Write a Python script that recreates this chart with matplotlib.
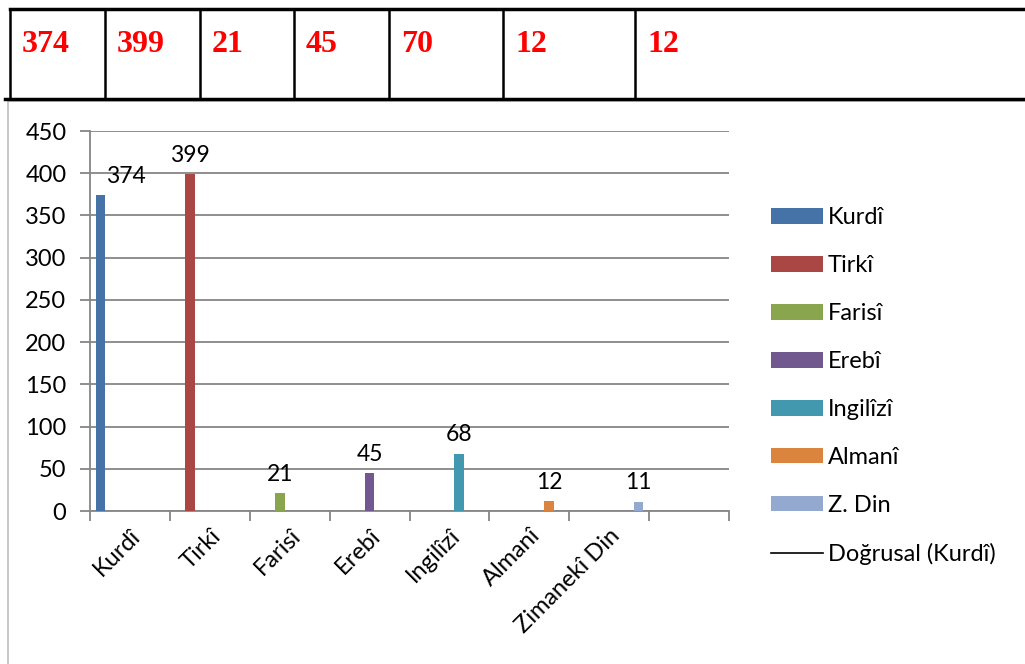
import matplotlib.pyplot as plt
from matplotlib.patches import Patch, Rectangle
from matplotlib.lines import Line2D

# table row above the chart
table_values = ['374', '399', '21', '45', '70', '12', '12']
table_edges = [10, 105, 200, 294, 389, 503, 635]  # column borders (px)

# chart data
categories = ['Kurdî', 'Tirkî', 'Farisî', 'Erebî', 'Ingilîzî', 'Almanî', 'Zimanekî Din']
series_names = ['Kurdî', 'Tirkî', 'Farisî', 'Erebî', 'Ingilîzî', 'Almanî', 'Z. Din']
values = [374, 399, 21, 45, 68, 12, 11]
colors = ['#4572A7', '#AA4643', '#89A54E', '#71588F', '#4198AF', '#DB843D', '#93A9CF']

W, H = 1025, 664
plt.rcParams['font.family'] = ['Lato', 'DejaVu Sans']
fig = plt.figure(figsize=(W / 100, H / 100), dpi=100)

def fx(px):
    return px / W

def fy(py):
    return 1 - py / H

# table lines
fig.add_artist(Line2D([fx(10), 1], [fy(9), fy(9)], color='black', lw=2.5))
fig.add_artist(Line2D([fx(5), 1], [fy(99), fy(99)], color='black', lw=2.5))
for x in table_edges:
    fig.add_artist(Line2D([fx(x), fx(x)], [fy(9), fy(99)], color='black', lw=1.8))
for x, v in zip(table_edges, table_values):
    fig.text(fx(x + 12), fy(44), v, color='red', fontsize=23, fontweight='bold',
             family='Liberation Serif', va='center', ha='left')

# chart area border
fig.add_artist(Rectangle((fx(8), -0.01), 1.0, fy(101) + 0.01, transform=fig.transFigure,
                         fill=False, edgecolor='#BFBFBF', lw=1.2))

ax = fig.add_axes([fx(90), fy(511), fx(729 - 90), fy(131) - fy(511)])

w = 0.1225
handles = []
for i, (name, v, c) in enumerate(zip(series_names, values, colors)):
    xpos = i + 0.5 + (i - 3) * w
    ax.bar(xpos, v, width=w, color=c, zorder=3)
    # the first label was dragged off the axis line in the original
    dx = 18 if i == 0 else 0
    ax.annotate(str(v), (xpos, v), xytext=(dx, 6), textcoords='offset points',
                ha='center', va='bottom', fontsize=16.5)
    handles.append(Patch(facecolor=c, label=name))
handles.append(Line2D([0], [0], color='black', lw=1.2, label='Doğrusal (Kurdî)'))

ax.set_xlim(0, 8)
ax.set_ylim(0, 450)
ax.set_yticks(range(0, 451, 50))
ax.yaxis.grid(True, color='#868686', lw=1.3, zorder=0)
ax.set_xticks(range(0, 9))
ax.set_xticklabels([])
ax.set_xticks([i + 0.5 for i in range(len(categories))], minor=True)
ax.set_xticklabels(categories, minor=True, rotation=45, ha='right',
                   rotation_mode='anchor', fontsize=17)
ax.tick_params(axis='x', which='minor', length=0, pad=10)
ax.tick_params(axis='x', which='major', length=7, color='#868686', width=1.3)
ax.tick_params(axis='y', length=7, color='#868686', width=1.3, labelsize=17, pad=10)
for s in ['top', 'right']:
    ax.spines[s].set_visible(False)
for s in ['left', 'bottom']:
    ax.spines[s].set_color('#868686')
    ax.spines[s].set_linewidth(1.3)

fig.legend(handles=handles, loc='upper left', bbox_to_anchor=(fx(750), fy(186)),
           frameon=False, fontsize=17, handlelength=2.2, handleheight=0.65,
           labelspacing=1.14, handletextpad=0.2)

plt.savefig('out.png', dpi=100)
